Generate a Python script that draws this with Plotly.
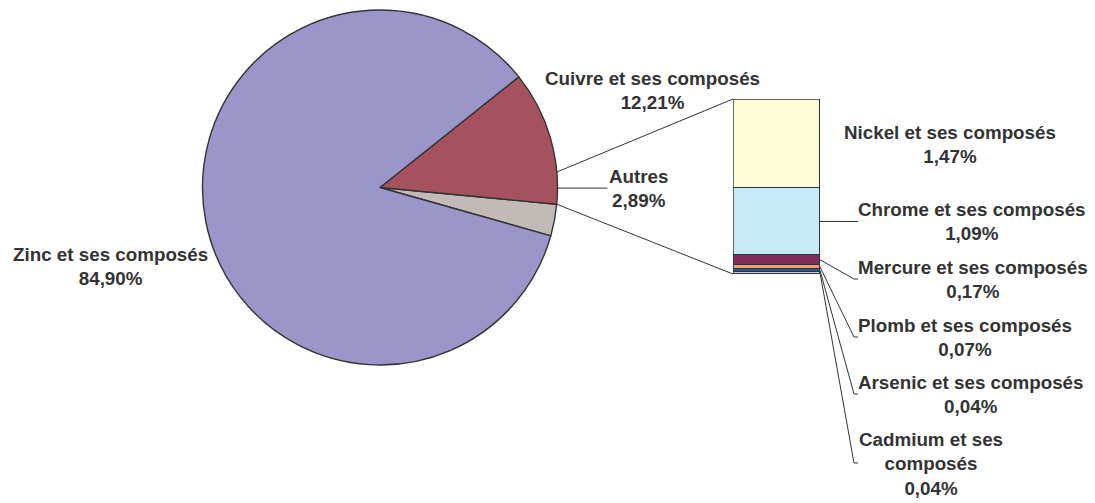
import math
import plotly.graph_objects as go

W, H = 1095, 503

# ---- data ----
pie_labels = ["Autres", "Cuivre et ses composés", "Zinc et ses composés"]
pie_values = [2.89, 12.21, 84.90]
pie_colors = ["#C2BAB6", "#A5525E", "#9B96C9"]

# breakdown of "Autres", bottom to top
bar_labels = ["Cadmium et ses composés", "Arsenic et ses composés",
              "Plomb et ses composés", "Mercure et ses composés",
              "Chrome et ses composés", "Nickel et ses composés"]
bar_values = [0.04, 0.04, 0.07, 0.17, 1.09, 1.47]
bar_colors = ["#C8C6E2", "#1E5F8E", "#F59A72", "#832A5C", "#C8E9F8", "#FFFCD8"]

EDGE = "#333333"
FONT = dict(family="Liberation Sans, Arial, sans-serif", size=18.8,
            color="#333333", weight="bold")

# ---- geometry (pixels) ----
CX, CY, R = 380, 187.5, 177.5
ROTATION = 95.4          # start of first slice, degrees clockwise from 12 o'clock
BAR_X0, BAR_X1 = 733, 820
BAR_TOP, BAR_BOT = 99, 274


def px(x):
    return x / W


def py(y):
    return 1 - y / H


def pie_point(frac_from_start):
    # counterclockwise from ROTATION (compass angle)
    ang = math.radians(ROTATION - 360 * frac_from_start)
    return CX + R * math.sin(ang), CY - R * math.cos(ang)


fig = go.Figure()

fig.add_trace(go.Pie(
    labels=pie_labels, values=pie_values, sort=False,
    direction="counterclockwise", rotation=ROTATION,
    marker=dict(colors=pie_colors, line=dict(color=EDGE, width=1.4)),
    textinfo="none", hoverinfo="label+percent", showlegend=False,
    domain=dict(x=[px(CX - R), px(CX + R)], y=[py(CY + R), py(CY - R)]),
))

for lab, val, col in zip(bar_labels, bar_values, bar_colors):
    fig.add_trace(go.Bar(
        x=[0], y=[val], name=lab, cliponaxis=False,
        marker=dict(color=col, line=dict(color=EDGE, width=1.2)),
        showlegend=False, hovertemplate=f"{lab}: %{{y:.2f}}%<extra></extra>",
    ))

total = sum(bar_values)


def bar_y(v):
    return BAR_BOT - (BAR_BOT - BAR_TOP) * v / total


shapes = [
    # outline around the whole stacked bar
    dict(type="rect", xref="x", yref="y", x0=-0.5, x1=0.5, y0=0, y1=total,
         line=dict(color=EDGE, width=1.4), fillcolor="rgba(0,0,0,0)"),
]


def seg(x0, y0, x1, y1, w=1):
    shapes.append(dict(type="line", xref="paper", yref="paper",
                       x0=px(x0), y0=py(y0), x1=px(x1), y1=py(y1),
                       line=dict(color=EDGE, width=w)))


# connectors pie -> bar
autres_frac = pie_values[0] / sum(pie_values)
p_bot = pie_point(0)
p_top = pie_point(autres_frac)
p_mid = pie_point(autres_frac / 2)
seg(p_top[0], p_top[1], BAR_X0, BAR_TOP)
seg(p_bot[0], p_bot[1], BAR_X0, BAR_BOT)
# Autres leader
seg(p_mid[0], p_mid[1], p_mid[0] + 50, p_mid[1])

# leader lines for bar segments (label anchor y)
label_y = {
    "Chrome et ses composés": 221.5,
    "Mercure et ses composés": 279,
    "Plomb et ses composés": 337,
    "Arsenic et ses composés": 394,
    "Cadmium et ses composés": 463,
}
cum = 0
for lab, val in zip(bar_labels, bar_values):
    mid = bar_y(cum + val / 2)
    cum += val
    if lab in label_y:
        ly = label_y[lab]
        seg(BAR_X1, mid, 854, ly)
        seg(854, ly, 858, ly)

annotations = [
    (110, 266, "Zinc et ses composés<br>84,90%"),
    (652, 90, "Cuivre et ses composés<br>12,21%"),
    (639, 188, "Autres<br>2,89%"),
    (950, 144.5, "Nickel et ses composés<br>1,47%"),
    (972, 221.5, "Chrome et ses composés<br>1,09%"),
    (973, 279, "Mercure et ses composés<br>0,17%"),
    (965, 337.5, "Plomb et ses composés<br>0,07%"),
    (971, 394, "Arsenic et ses composés<br>0,04%"),
    (931, 464, "Cadmium et ses<br>composés<br>0,04%"),
]

fig.update_layout(
    width=W, height=H, margin=dict(l=0, r=0, t=0, b=0),
    paper_bgcolor="white", plot_bgcolor="rgba(0,0,0,0)",
    barmode="stack", bargap=0,
    xaxis=dict(domain=[px(BAR_X0), px(BAR_X1)], range=[-0.5, 0.5], visible=False,
               fixedrange=True),
    yaxis=dict(domain=[py(BAR_BOT), py(BAR_TOP)], range=[0, total], visible=False,
               fixedrange=True),
    shapes=shapes,
    annotations=[dict(x=px(x), y=py(y), xref="paper", yref="paper", text=t,
                      showarrow=False, xanchor="center", yanchor="middle",
                      align="center", font=FONT)
                 for x, y, t in annotations],
)

# page body has a default 8px margin; drop it so the figure sits at 0,0
fig.write_html("out.html", config={"displayModeBar": False},
               post_script="document.body.style.margin='0';")
